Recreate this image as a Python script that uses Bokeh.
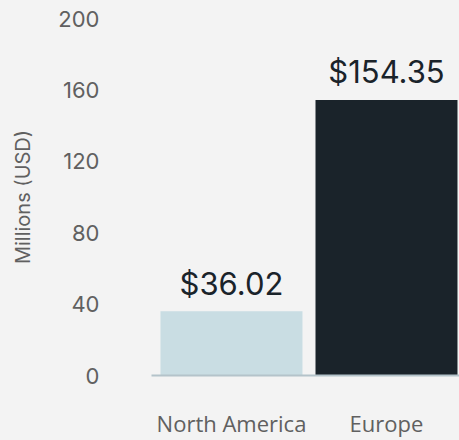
from bokeh.plotting import figure
from bokeh.models import ColumnDataSource, Range1d, FixedTicker
from bokeh.core.properties import value
from bokeh.embed import file_html
from bokeh.resources import INLINE

# Data
regions = ["North America", "Europe"]
revenue = [36.02, 154.35]
bar_colors = ["#c9dde3", "#1a232a"]
y_ticks = [0, 40, 80, 120, 160, 200]

BG = "#f3f3f3"

xs = list(range(len(regions)))
labels = ["${:.2f}".format(v) for v in revenue]
src = ColumnDataSource(dict(x=xs, top=revenue, color=bar_colors, label=labels))

p = figure(width=459, height=440, output_backend="svg", toolbar_location=None,
           x_range=Range1d(-0.516, 1.471), y_range=Range1d(0, 200),
           min_border_left=151, min_border_right=0, min_border_top=18, min_border_bottom=62)
p.background_fill_color = BG
p.border_fill_color = BG
p.outline_line_color = None
p.grid.visible = False

p.vbar(x="x", top="top", bottom=0, width=0.916, color="color", line_color=None, source=src)
p.text(x="x", y="top", text="label", source=src, text_align="center", text_baseline="middle",
       y_offset=-28, text_font=value("Inter"), text_font_size="31px", text_color="#1a232a")

# x axis
p.xaxis.ticker = FixedTicker(ticks=xs)
p.xaxis.major_label_overrides = {i: r for i, r in zip(xs, regions)}
p.xaxis.axis_line_color = "#b4c3ca"
p.xaxis.axis_line_width = 2
p.xaxis.major_tick_line_color = None
p.xaxis.minor_tick_line_color = None
p.xaxis.major_tick_out = 0
p.xaxis.major_tick_in = 0
p.xaxis.major_label_standoff = 32
p.xaxis.major_label_text_font = "Open Sans"
p.xaxis.major_label_text_font_size = "22px"
p.xaxis.major_label_text_color = "#606060"

# y axis
p.yaxis.ticker = FixedTicker(ticks=y_ticks)
p.yaxis.axis_line_color = None
p.yaxis.major_tick_line_color = None
p.yaxis.minor_tick_line_color = None
p.yaxis.major_tick_out = 0
p.yaxis.major_tick_in = 0
p.yaxis.major_label_standoff = 52
p.yaxis.major_label_text_font = "Inter"
p.yaxis.major_label_text_font_size = "22px"
p.yaxis.major_label_text_color = "#606060"
p.yaxis.axis_label = "Millions (USD)"
p.yaxis.axis_label_standoff = 20
p.yaxis.axis_label_text_font = "Inter"
p.yaxis.axis_label_text_font_style = "normal"
p.yaxis.axis_label_text_font_size = "20px"
p.yaxis.axis_label_text_color = "#606060"

html = file_html(p, INLINE)
html = html.replace("<head>", "<head><style>html,body{background:%s;}</style>" % BG, 1)
open("out.html", "w").write(html)
